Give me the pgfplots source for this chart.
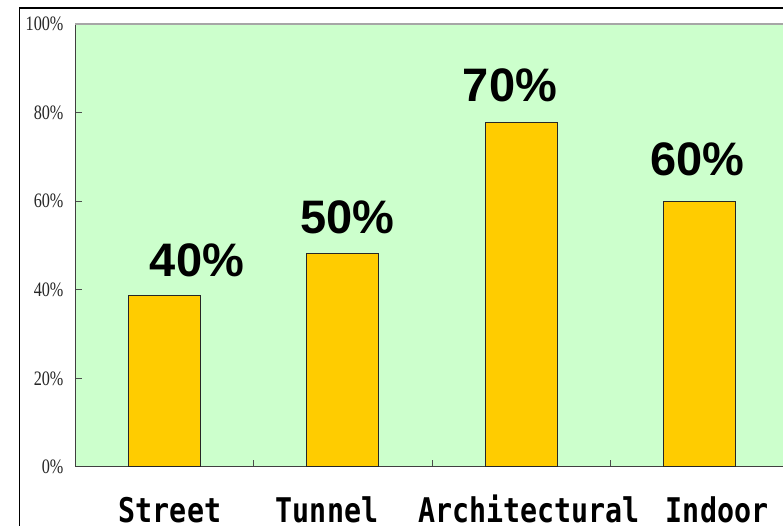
\documentclass[border=0pt]{standalone}
\usepackage{pgfplots}
\pgfplotsset{compat=1.18}
\usepackage{fontspec}
\setmainfont{Liberation Serif}
\newfontfamily\catfont{DejaVu Sans Mono}
\newfontfamily\valfont{Liberation Sans}
\definecolor{bggreen}{HTML}{CCFFCC}
\definecolor{bargold}{HTML}{FFCC00}
\newcommand\yl[1]{\scalebox{0.79}[1]{#1}}
\newcommand\cl[1]{\scalebox{0.833}[1]{#1}}
\begin{document}
\begin{tikzpicture}[x=1pt,y=1pt]
\useasboundingbox (0,0) rectangle (783,526);
\clip (0,0) rectangle (783,526);
\fill[white] (0,0) rectangle (783,526);
\draw[black, line width=1.2pt] (19.5,518) rectangle (900,-50);
\begin{axis}[
  at={(75pt,59pt)}, anchor=south west,
  scale only axis, width=714pt, height=443pt,
  xmin=-0.5, xmax=3.5, ymin=0, ymax=100,
  axis background/.style={fill=bggreen},
  axis line style={draw=black!75, line width=1pt},
  ybar, bar width=72pt, bar shift=0pt,
  ytick={0,20,40,60,80,100},
  yticklabels={\yl{0\%},\yl{20\%},\yl{40\%},\yl{60\%},\yl{80\%},\yl{100\%}},
  yticklabel style={font=\fontsize{20.5}{20}\selectfont, xshift=-8pt, text=black!85},
  xtick={0.5,1.5,2.5},
  xticklabels={},
  extra x ticks={0.032,0.912,2.043,3.097},
  extra x tick labels={\cl{Street},\cl{Tunnel},\cl{Architectural},\cl{Indoor}},
  extra x tick style={major tick length=0pt, tick style={draw=none},
    xticklabel style={anchor=base, yshift=-56pt, font=\catfont\bfseries\fontsize{34}{34}\selectfont}},
  tick align=inside, major tick length=7pt,
  ytick pos=left, xtick pos=bottom,
  tick style={draw=black!70, line width=1pt},
]
\addplot[fill=bargold, draw=black!85, line width=1pt] coordinates {(0,38.6) (1,48.3) (2,77.7) (3,60.0)};
\draw[gray!70, line width=1.5pt] (rel axis cs:0,1) -- (rel axis cs:1,1);
\node[anchor=base, font=\valfont\bfseries\fontsize{47}{47}\selectfont] at (axis cs:0.183,42.9) {40\%};
\node[anchor=base, font=\valfont\bfseries\fontsize{47}{47}\selectfont] at (axis cs:1.024,52.8) {50\%};
\node[anchor=base, font=\valfont\bfseries\fontsize{47}{47}\selectfont] at (axis cs:1.937,82.4) {70\%};
\node[anchor=base, font=\valfont\bfseries\fontsize{47}{47}\selectfont] at (axis cs:2.985,65.9) {60\%};
\end{axis}
\end{tikzpicture}
\end{document}
